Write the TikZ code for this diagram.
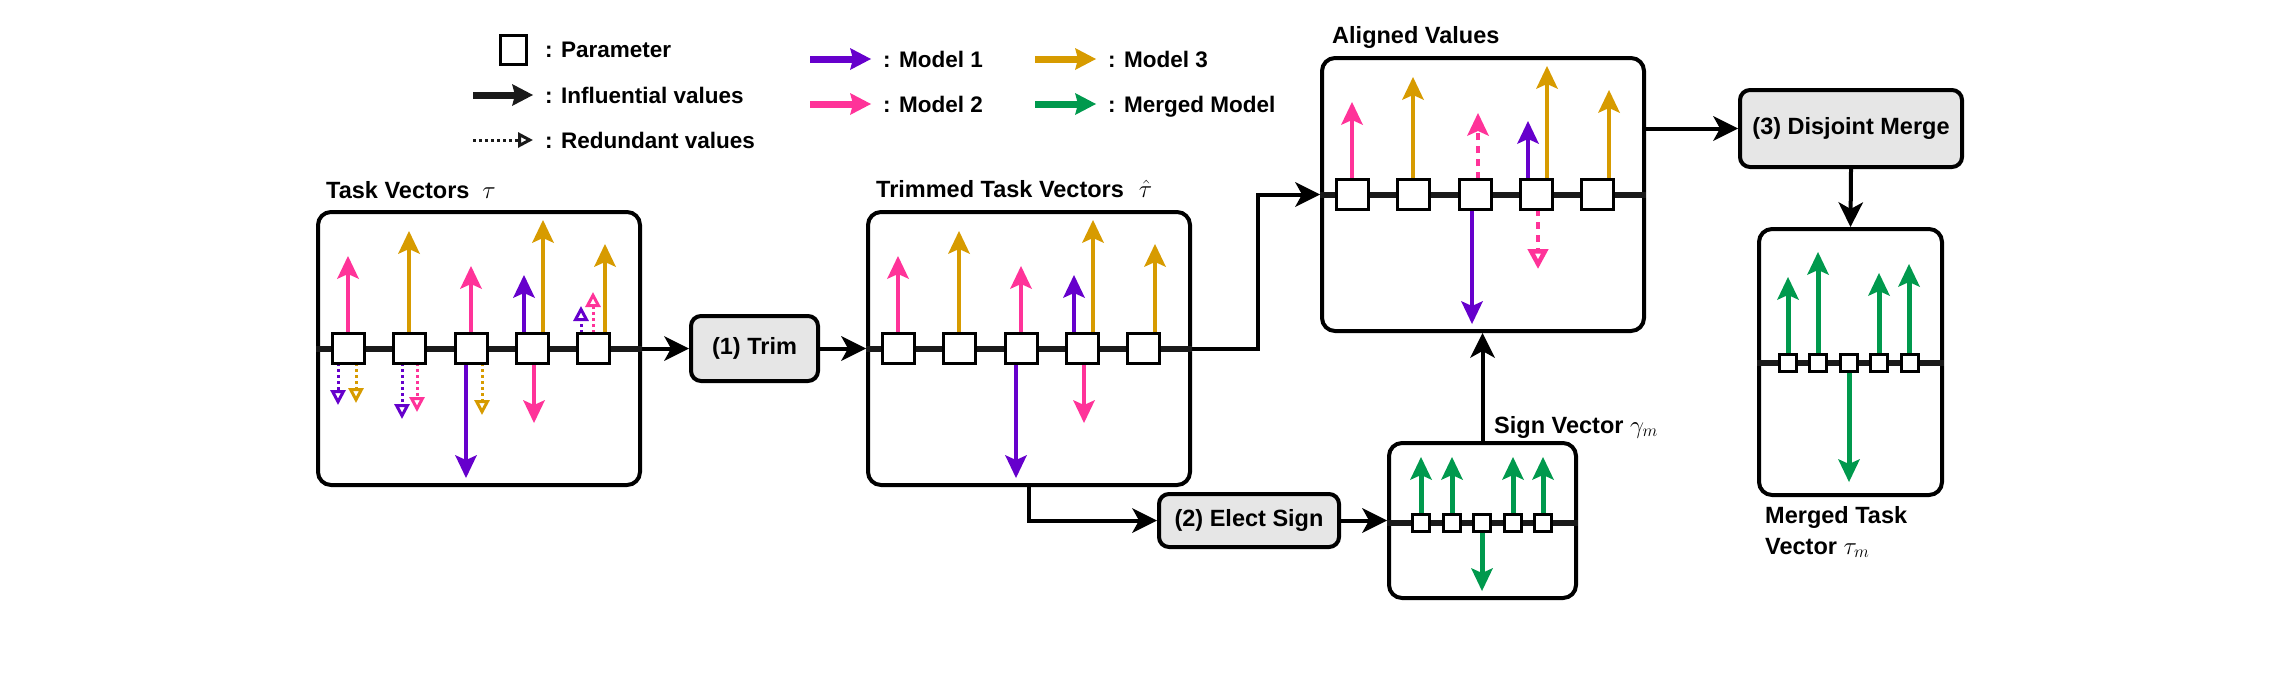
\documentclass[tikz,border=0pt]{standalone}
\usepackage{fontspec}
\setmainfont{Liberation Sans}
\usepackage{amsmath}
\usepackage{xcolor}
\usetikzlibrary{arrows.meta}

\definecolor{mpurple}{HTML}{6600CC}
\definecolor{mpink}{HTML}{FF3399}
\definecolor{mgold}{HTML}{D79B00}
\definecolor{mgreen}{HTML}{00994D}
\definecolor{stepgray}{HTML}{E6E6E6}
\definecolor{axisgray}{HTML}{1A1A1A}

\begin{document}
\begin{tikzpicture}[x=1pt,y=-1pt,
  every node/.style={font=\fontsize{23.5}{31}\selectfont\bfseries},
  lbl/.style={inner sep=0pt,anchor=base west},
  legtxt/.style={lbl,font=\fontsize{22.5}{27}\selectfont\bfseries},
  panel/.style={draw,line width=4pt,rounded corners=13pt,fill=white,inner sep=0pt},
  stepbox/.style={draw,line width=4pt,rounded corners=10pt,fill=stepgray,inner sep=0pt},
  param/.style={draw,line width=3pt,fill=white,minimum width=32pt,minimum height=30pt,inner sep=0pt},
  sparam/.style={draw,line width=2.5pt,fill=white,minimum size=17pt,inner sep=0pt},
  axisline/.style={draw=axisgray,line width=6pt},
  val/.style={line width=4.5pt,-{Stealth[length=23pt,width=22pt,inset=5pt,line width=0pt]}},
  gval/.style={val,mgreen,line width=5pt},
  dotval/.style={line width=3pt,dash pattern=on 3pt off 3pt,-{Triangle[open,length=15pt,width=15pt]}},
  dashval/.style={line width=4.5pt,dash pattern=on 7pt off 6pt},
  legarr/.style={line width=7pt,-{Stealth[length=21pt,width=22pt,inset=3pt,line width=0pt]}},
  conn/.style={line width=4pt,-{Stealth[length=25pt,width=25pt,inset=7pt,line width=0pt]}}]
\useasboundingbox (0,0) rectangle (2293,672);

% legend
\node[param,minimum width=26pt,minimum height=29pt] (legpar) at (513,50) {};
\node[legtxt] (legpartxt) at (545,57) {: Parameter};
\node[legtxt] (leginf) at (545,103) {: Influential values};
\node[legtxt] (legred) at (545,148) {: Redundant values};
\node[legtxt] (legm1) at (883,67) {: Model 1};
\node[legtxt] (legm2) at (883,112) {: Model 2};
\node[legtxt] (legm3) at (1108,67) {: Model 3};
\node[legtxt] (legmm) at (1108,112) {: Merged Model};
\draw[legarr,axisgray] ([shift={(-72,-8)}]leginf.base west) -- ([shift={(-12,-8)}]leginf.base west);
\draw[dotval,axisgray] ([shift={(-72,-8)}]legred.base west) -- ([shift={(-12,-8)}]legred.base west);
\draw[legarr,mpurple] ([shift={(-73,-8)}]legm1.base west) -- ([shift={(-12,-8)}]legm1.base west);
\draw[legarr,mpink] ([shift={(-73,-8)}]legm2.base west) -- ([shift={(-12,-8)}]legm2.base west);
\draw[legarr,mgold] ([shift={(-73,-8)}]legm3.base west) -- ([shift={(-12,-8)}]legm3.base west);
\draw[legarr,mgreen] ([shift={(-73,-8)}]legmm.base west) -- ([shift={(-12,-8)}]legmm.base west);

% task vectors
\node[panel,minimum width=322pt,minimum height=273pt] (taskvec) at (479,348.5) {};
\node[lbl] (tasklbl) at (326,198) {Task Vectors\hspace{13pt}$\tau$};
\draw[axisline] (taskvec.west) -- (taskvec.east);
\draw[val,mpink] (348,348) -- (348,256);
\draw[dotval,mpurple] (338,363) -- (338,405);
\draw[dotval,mgold] (356,363) -- (356,403);
\draw[val,mgold] (409,348) -- (409,231);
\draw[dotval,mpurple] (402,363) -- (402,419);
\draw[dotval,mpink] (417,363) -- (417,412);
\draw[val,mpink] (471,348) -- (471,266);
\draw[val,mpurple] (466,348) -- (466,478);
\draw[dotval,mgold] (482,363) -- (482,415);
\draw[val,mpurple] (524,348) -- (524,275);
\draw[val,mgold] (543,348) -- (543,220);
\draw[val,mpink] (534,348) -- (534,423);
\draw[dotval,mpurple] (581,333) -- (581,306);
\draw[dotval,mpink] (593,333) -- (593,292);
\draw[val,mgold] (605,348) -- (605,244);
\node[param] (tv1) at (348,348) {};
\node[param] (tv2) at (409,348) {};
\node[param] (tv3) at (471,348) {};
\node[param] (tv4) at (532,348) {};
\node[param] (tv5) at (593,348) {};

% trimmed task vectors
\begin{scope}[shift={(550,0)}]
\node[panel,minimum width=322pt,minimum height=273pt] (trimvec) at (479,348.5) {};
\node[lbl] (trimlbl) at (326,197) {Trimmed Task Vectors\hspace{15pt}$\hat{\tau}$};
\draw[axisline] (trimvec.west) -- (trimvec.east);
\draw[val,mpink] (348,348) -- (348,256);
\draw[val,mgold] (409,348) -- (409,231);
\draw[val,mpink] (471,348) -- (471,266);
\draw[val,mpurple] (466,348) -- (466,478);
\draw[val,mpurple] (524,348) -- (524,275);
\draw[val,mgold] (543,348) -- (543,220);
\draw[val,mpink] (534,348) -- (534,423);
\draw[val,mgold] (605,348) -- (605,244);
\node[param] (tt1) at (348,348) {};
\node[param] (tt2) at (409,348) {};
\node[param] (tt3) at (471,348) {};
\node[param] (tt4) at (532,348) {};
\node[param] (tt5) at (593,348) {};
\end{scope}

% aligned values
\begin{scope}[shift={(1004,-154)}]
\node[panel,minimum width=322pt,minimum height=273pt] (alignvec) at (479,348.5) {};
\node[lbl] (alignlbl) at (328,197) {Aligned Values};
\draw[axisline] (alignvec.west) -- (alignvec.east);
\draw[val,mpink] (348,348) -- (348,256);
\draw[val,mgold] (409,348) -- (409,231);
\draw[dashval,mpink,-{Stealth[length=23pt,width=22pt,inset=5pt,line width=0pt]}] (474,333) -- (474,267);
\draw[val,mpurple] (468,348) -- (468,478);
\draw[val,mpurple] (524,348) -- (524,275);
\draw[val,mgold] (543,348) -- (543,220);
\draw[dashval,mpink,-{Triangle[open,length=20pt,width=20pt]}] (534,363) -- (534,423);
\draw[val,mgold] (605,348) -- (605,244);
\node[param] (ta1) at (348,348) {};
\node[param] (ta2) at (409,348) {};
\node[param] (ta3) at (471,348) {};
\node[param] (ta4) at (532,348) {};
\node[param] (ta5) at (593,348) {};
\end{scope}

% sign vector
\node[panel,minimum width=187pt,minimum height=155pt] (signvec) at (1482.5,520.5) {};
\node[lbl] (signlbl) at (1494,433) {Sign Vector $\gamma_m$};
\draw[axisline] ([yshift=-2.5pt]signvec.west) -- ([yshift=-2.5pt]signvec.east);
\draw[gval] (1421,523) -- (1421,457);
\draw[gval] (1452,523) -- (1452,457);
\draw[gval] (1482,523) -- (1482,591);
\draw[gval] (1513,523) -- (1513,457);
\draw[gval] (1543,523) -- (1543,457);
\node[sparam] (sv1) at (1421,523) {};
\node[sparam] (sv2) at (1452,523) {};
\node[sparam] (sv3) at (1482,523) {};
\node[sparam] (sv4) at (1513,523) {};
\node[sparam] (sv5) at (1543,523) {};

% merged task vector
\node[panel,minimum width=183pt,minimum height=266pt] (mergevec) at (1850.5,362) {};
\node[lbl,align=left] (mergelbl) at (1765,554) {Merged Task\\Vector $\tau_m$};
\draw[axisline] ([yshift=-1pt]mergevec.west) -- ([yshift=-1pt]mergevec.east);
\draw[gval] (1788,363) -- (1788,277);
\draw[gval] (1818,363) -- (1818,252);
\draw[gval] (1849,363) -- (1849,482);
\draw[gval] (1879,363) -- (1879,273);
\draw[gval] (1909,363) -- (1909,264);
\node[sparam] (mv1) at (1788,363) {};
\node[sparam] (mv2) at (1818,363) {};
\node[sparam] (mv3) at (1849,363) {};
\node[sparam] (mv4) at (1879,363) {};
\node[sparam] (mv5) at (1910,363) {};

% steps
\node[stepbox,minimum width=127pt,minimum height=65pt] (trim) at (754.5,348.5) {(1) Trim};
\node[stepbox,minimum width=180pt,minimum height=53pt] (elect) at (1249,520.5) {(2) Elect Sign};
\node[stepbox,minimum width=222pt,minimum height=77pt] (merge) at (1851,128.5) {(3) Disjoint Merge};

% connectors
\draw[conn] (taskvec.east) -- (trim.west);
\draw[conn] (trim.east) -- (trimvec.west);
\draw[conn] (trimvec.east) -- ++(66,0) |- (alignvec.west);
\draw[conn] (trimvec.south) |- (elect.west);
\draw[conn] (elect.east) -- (elect.east -| signvec.west);
\draw[conn] (signvec.north) -- (signvec.north |- alignvec.south);
\draw[conn] (alignvec.east |- merge.west) -- (merge.west);
\draw[conn] (merge.south) -- (mergevec.north);
\end{tikzpicture}
\end{document}
